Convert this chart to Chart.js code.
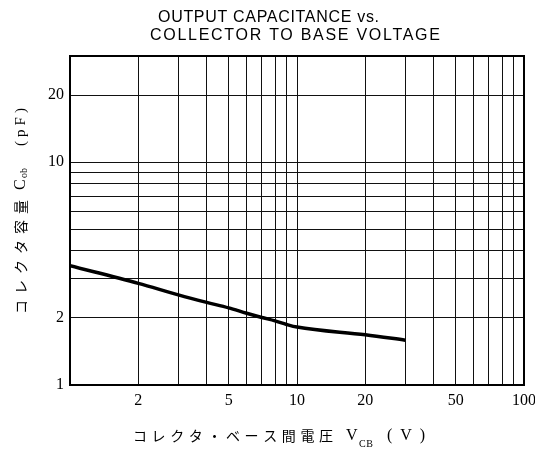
<!DOCTYPE html>
<html><head><meta charset="utf-8">
<script src="https://cdn.jsdelivr.net/npm/chart.js@4"></script>
<style>html,body{margin:0;padding:0;background:#fff;} canvas{display:block;}</style>
</head><body>
<canvas id="c" width="535" height="453"></canvas>
<script>
const vcb = [1, 2, 3, 4, 5, 6, 7, 8, 9, 10, 20, 30];
const cob = [3.43, 2.86, 2.54, 2.35, 2.22, 2.10, 2.01, 1.94, 1.87, 1.82, 1.68, 1.59];
const xGridValues = [1,2,3,4,5,6,7,8,9,10,20,30,40,50,60,70,80,90,100];
const yGridValues = [1,2,3,4,5,6,7,8,9,10,20,30];
const xTickLabels = [2,5,10,20,50,100];
const yTickLabels = [1,2,10,20];
const titleLines = ['OUTPUT CAPACITANCE vs.', 'COLLECTOR TO BASE VOLTAGE'];
const yLabelParts = ['コレクタ容量', 'C', 'ob', '(pF)'];
const xLabelParts = ['コレクタ・ベース間電圧', 'V', 'CB', '(V)'];

function fitText(ctx, text, x, y, width) {
  ctx.letterSpacing = '0px';
  const w = ctx.measureText(text).width;
  const n = [...text].length;
  const ls = n > 1 ? (width - w) / (n - 1) : 0;
  ctx.letterSpacing = ls.toFixed(2) + 'px';
  ctx.fillText(text, x, y);
  ctx.letterSpacing = '0px';
}

const textPlugin = {
  id: 'texts',
  afterDraw(chart) {
    const ctx = chart.ctx;
    const a = chart.chartArea;
    ctx.save();
    ctx.strokeStyle = '#000';
    ctx.lineWidth = 2;
    ctx.strokeRect(a.left, a.top, a.right - a.left, a.bottom - a.top);
    ctx.fillStyle = '#000';
    ctx.textAlign = 'left';
    ctx.textBaseline = 'alphabetic';
    ctx.font = '16px "Liberation Sans"';
    fitText(ctx, titleLines[0], 158, 22, 221);
    fitText(ctx, titleLines[1], 150, 40, 290);

    // x axis label
    ctx.textBaseline = 'middle';
    ctx.font = '14px "Noto Sans CJK JP"';
    fitText(ctx, xLabelParts[0], 133, 436, 200);
    ctx.font = '16px "Liberation Serif"';
    ctx.fillText(xLabelParts[1], 346, 436);
    ctx.font = '10px "Liberation Serif"';
    fitText(ctx, xLabelParts[2], 359, 444, 14);
    ctx.font = '16px "Liberation Serif"';
    fitText(ctx, xLabelParts[3], 387, 436, 38);

    // y axis label (rotated)
    ctx.translate(21, 0);
    ctx.rotate(-Math.PI / 2);
    ctx.font = '14px "Noto Sans CJK JP"';
    fitText(ctx, yLabelParts[0], -314, 0, 114);
    ctx.font = '16px "Liberation Serif"';
    ctx.fillText(yLabelParts[1], -190, 0);
    ctx.font = '10px "Liberation Serif"';
    fitText(ctx, yLabelParts[2], -178, 3, 10);
    ctx.font = '15px "Liberation Serif"';
    fitText(ctx, yLabelParts[3], -146, 0, 38);
    ctx.restore();
  }
};

new Chart(document.getElementById('c'), {
  type: 'line',
  data: {
    datasets: [{
      data: vcb.map((x, i) => ({ x: x, y: cob[i] })),
      borderColor: '#000',
      borderWidth: 3.5,
      pointRadius: 0,
      cubicInterpolationMode: 'monotone',
      fill: false
    }]
  },
  options: {
    responsive: false,
    animation: false,
    devicePixelRatio: 1,
    layout: { padding: { top: 56, right: 11, left: 0, bottom: 0 } },
    plugins: { legend: { display: false }, tooltip: { enabled: false }, title: { display: false } },
    scales: {
      x: {
        type: 'logarithmic',
        min: 1, max: 100,
        afterBuildTicks: s => { s.ticks = xGridValues.map(v => ({ value: v })); },
        afterFit: s => { s.height = 68; s.paddingLeft = 0; s.paddingRight = 0; },
        grid: { color: '#111', lineWidth: 1, drawTicks: false },
        border: { display: true, color: '#000', width: 2 },
        ticks: {
          autoSkip: false, maxRotation: 0, minRotation: 0, padding: 6, color: '#000',
          font: { family: '"Liberation Serif"', size: 16 },
          callback: v => xTickLabels.includes(v) ? String(v) : ''
        }
      },
      y: {
        type: 'logarithmic',
        min: 1, max: 30,
        afterBuildTicks: s => { s.ticks = yGridValues.map(v => ({ value: v })); },
        afterFit: s => { s.width = 70; s.paddingTop = 0; s.paddingBottom = 0; },
        grid: { color: '#111', lineWidth: 1, drawTicks: false },
        border: { display: true, color: '#000', width: 2 },
        ticks: {
          autoSkip: false, padding: 6, color: '#000',
          font: { family: '"Liberation Serif"', size: 16 },
          callback: v => yTickLabels.includes(v) ? String(v) : ''
        }
      }
    }
  },
  plugins: [textPlugin]
});
</script>
</body></html>
